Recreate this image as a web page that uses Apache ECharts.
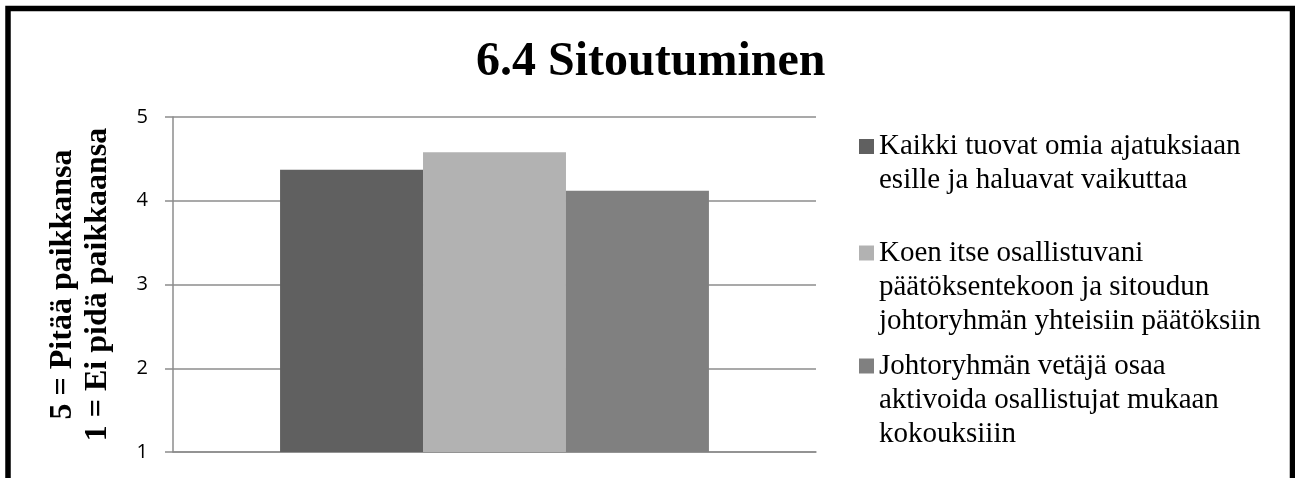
<!DOCTYPE html>
<html>
<head>
<meta charset="utf-8">
<script src="https://cdn.jsdelivr.net/npm/echarts@6/dist/echarts.min.js"></script>
<style>
html,body{margin:0;padding:0;background:#fff;}
#chart{width:1295px;height:478px;}
</style>
</head>
<body>
<div id="chart"></div>
<script>
const titleText = '6.4 Sitoutuminen';
const yAxisTitle = '5 = Pitää paikkansa\n1 = Ei pidä paikkaansa';
const categories = [''];
const seriesNames = [
  'Kaikki tuovat omia ajatuksiaan\nesille ja haluavat vaikuttaa',
  'Koen itse osallistuvani\npäätöksentekoon ja sitoudun\njohtoryhmän yhteisiin päätöksiin',
  'Johtoryhmän vetäjä osaa\naktivoida osallistujat mukaan\nkokouksiiin'
];
const seriesValues = [[4.37], [4.58], [4.12]];
const yTicks = [1, 2, 3, 4, 5];

const colors = ['#606060', '#b2b2b2', '#808080'];
const legendIconCenters = [146.5, 253, 366];
const serif = '"Liberation Serif", "Times New Roman", serif';
const LH = 34;

const chart = echarts.init(document.getElementById('chart'), null, {renderer: 'canvas'});

const legends = seriesNames.map((name, i) => {
  const n = name.split('\n').length;
  return {
    show: true,
    orient: 'vertical',
    left: 859,
    top: legendIconCenters[i] - (2 * n - 1) * LH / 2,
    padding: 0,
    itemWidth: 15,
    itemHeight: 15,
    icon: 'rect',
    selectedMode: false,
    data: [{name: name}],
    formatter: (nm) => '\n'.repeat(n - 1) + nm,
    textStyle: {
      fontFamily: serif,
      fontSize: 29,
      lineHeight: LH,
      color: '#000'
    }
  };
});

const option = {
  animation: false,
  backgroundColor: '#fff',
  title: {
    text: titleText,
    left: 476,
    top: 39,
    padding: 0,
    textStyle: {
      fontFamily: serif,
      fontWeight: 'bold',
      fontSize: 48,
      color: '#000'
    }
  },
  legend: legends,
  grid: {left: 173, right: 479, top: 117, bottom: 26, containLabel: false},
  xAxis: {
    type: 'category',
    data: categories,
    axisLine: {show: true, lineStyle: {color: '#8c8c8c', width: 1.5}},
    axisTick: {show: false},
    axisLabel: {show: false}
  },
  yAxis: {
    type: 'value',
    min: yTicks[0],
    max: yTicks[yTicks.length - 1],
    interval: 1,
    name: yAxisTitle,
    nameLocation: 'middle',
    nameRotate: 90,
    nameGap: 58,
    nameTextStyle: {
      fontFamily: serif,
      fontWeight: 'bold',
      fontSize: 32,
      lineHeight: 35,
      color: '#000'
    },
    axisLine: {show: true, lineStyle: {color: '#8c8c8c', width: 1.5}},
    axisTick: {show: true, inside: false, length: 8, lineStyle: {color: '#8c8c8c', width: 1.5}},
    axisLabel: {
      margin: 25,
      fontFamily: '"Open Sans", sans-serif',
      fontSize: 20,
      color: '#000'
    },
    splitLine: {show: true, lineStyle: {color: '#8c8c8c', width: 1.5}}
  },
  series: seriesNames.map((name, i) => ({
    name: name,
    type: 'bar',
    data: seriesValues[i],
    barGap: '0%',
    barCategoryGap: '33.3%',
    itemStyle: {color: colors[i]}
  })),
  graphic: [{
    type: 'rect',
    shape: {x: 8, y: 8.5, width: 1284.5, height: 520},
    style: {fill: 'none', stroke: '#000', lineWidth: 5.5},
    silent: true,
    z: 100
  }]
};
chart.setOption(option);
</script>
</body>
</html>
